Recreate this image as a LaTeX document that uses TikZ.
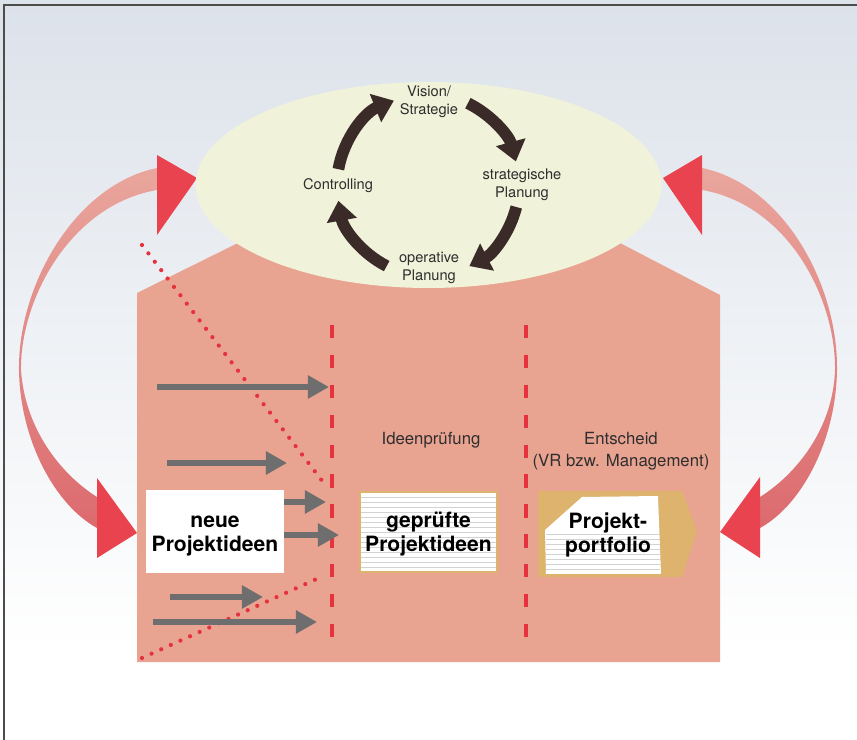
\documentclass[tikz,border=0pt]{standalone}
\usepackage{fontspec}
\setmainfont{TeX Gyre Heros}
\usetikzlibrary{arrows.meta,calc}
\definecolor{bgtop}{HTML}{DCE2EA}
\definecolor{house}{HTML}{E9A391}
\definecolor{ell}{HTML}{F0F2DA}
\definecolor{cyc}{HTML}{3B2B28}
\definecolor{redl}{HTML}{E5323E}
\definecolor{garr}{HTML}{6E6E6E}
\definecolor{tanc}{HTML}{DDB36E}
\definecolor{headred}{HTML}{E8434F}
\definecolor{txt}{HTML}{2E2E2E}
\definecolor{bandtop}{HTML}{E9A69D}
\definecolor{bandmid}{HTML}{F3D3CC}
\definecolor{bandbot}{HTML}{DC6A6E}
\tikzset{
  garrow/.style={draw=garr, line width=4.3pt, -{Triangle[length=18pt,width=19pt]}},
  cycarrow/.style={draw=cyc, line width=10pt, -{Triangle[length=17pt,width=25pt]}},
  reddash/.style={draw=redl, line width=3.4pt, dash pattern=on 11.5pt off 14pt},
  reddots/.style={draw=redl, line width=3.6pt, line cap=round, dash pattern=on 0pt off 9pt},
  smalltxt/.style={text=txt, align=center, font={\fontsize{12.5}{15.3}\selectfont}},
  midtxt/.style={text=txt, align=center, font={\fontsize{14.3}{18.7}\selectfont}},
  boldtxt/.style={text=black, align=center, font={\fontsize{18}{20}\selectfont\bfseries}},
  band/.style={top color=bandtop, middle color=bandmid, bottom color=bandbot},
  ruled/.style={draw=gray!35, line width=0.4pt}
}
\begin{document}
\begin{tikzpicture}[x=0.03cm,y=-0.03cm]
\useasboundingbox (0,0) rectangle (857,740);
% background
\fill[white] (0,0) rectangle (857,740);
\shade[top color=bgtop, bottom color=white] (0,0) rectangle (857,650);
\draw[line width=1.2pt, black!70] (4,740) -- (4,5) -- (857,5);

% left curved band
\shade[band] (157,168) .. controls (75,185) and (18,285) .. (19,370)
   .. controls (20,440) and (55,505) .. (97,528) -- (97,497)
   .. controls (62,475) and (25,430) .. (21,370)
   .. controls (20,300) and (70,205) .. (157,190) -- cycle;
% right curved band
\shade[band] (702,168) .. controls (784,185) and (838,285) .. (837,370)
   .. controls (836,440) and (802,505) .. (760,528) -- (760,497)
   .. controls (795,475) and (833,430) .. (835,370)
   .. controls (836,300) and (789,205) .. (702,190) -- cycle;
% arrow heads
\fill[headred] (157,155) -- (197,178) -- (157,235) -- cycle;
\fill[headred] (97,478) -- (137,533) -- (97,558) -- cycle;
\fill[headred] (702,155) -- (663,178) -- (702,235) -- cycle;
\fill[headred] (760,477) -- (720,532) -- (760,558) -- cycle;

% house
\fill[house] (137,662) -- (137,293) -- (240,242) -- (618,242) -- (720,295) -- (720,662) -- cycle;
% ellipse
\fill[ell] (428.5,185) ellipse [x radius=233, y radius=103];

% cycle arrows
\coordinate (cc) at (428,185);
\draw[cycarrow] (cc) ++(-64:91) arc[start angle=-64, end angle=-15, radius=91];
\draw[cycarrow] (cc) ++(14:91) arc[start angle=14, end angle=63, radius=91];
\draw[cycarrow] (cc) ++(117:91) arc[start angle=117, end angle=170, radius=91];
\draw[cycarrow] (cc) ++(-170:91) arc[start angle=-170, end angle=-112, radius=91];

\node[smalltxt] (vis) at (429,102) {\strut Vision/\\\strut Strategie};
\node[smalltxt] (strat) at (522,185) {\strut strategische\\\strut Planung};
\node[smalltxt] (contr) at (338,186) {\strut Controlling};
\node[smalltxt] (oper) at (429,268) {\strut operative\\\strut Planung};

% dotted lines
\coordinate (d1s) at (142,245); \coordinate (d1e) at (323,482);
\coordinate (d2s) at (142,658); \coordinate (d2e) at (321,577);
\draw[reddots] (d1s) -- (d1e);
\draw[reddots] (d2s) -- (d2e);

% dashed lines
\coordinate (l1t) at (332,325); \coordinate (l1b) at (332,648);
\coordinate (l2t) at (526,325); \coordinate (l2b) at (526,648);
\draw[reddash] (l1t) -- (l1b);
\draw[reddash] (l2t) -- (l2b);

\node[midtxt] (ideen) at (431,440.5) {\strut Ideenpr\"ufung};
\node[midtxt] (entsch) at (621,451.5) {\strut Entscheid\\\strut (VR bzw. Management)};

% boxes
\node[fill=white, minimum width=117.4pt, minimum height=70.6pt, inner sep=0pt] (neue) at (215,531.5) {};
\node[boldtxt] (neuet) at (215,535) {\strut neue\\\strut Projektideen};

\node[fill=white, minimum width=116.5pt, minimum height=68pt, inner sep=0pt] (gepr) at (428.5,532) {};
\foreach \yy in {497,502,...,568} {\draw[ruled] (361,\yy) -- (496,\yy);}
\draw[tanc, line width=1.2pt] (gepr.north west) rectangle (gepr.south east);
\node[boldtxt] (geprt) at (428.5,535) {\strut gepr\"ufte\\\strut Projektideen};

\fill[tanc] (538,491) -- (682,491) -- (697,531) -- (682,577) -- (538,577) -- cycle;
\fill[white] (545,530) -- (582,497) -- (658,496) -- (661,574) -- (546,574) -- cycle;
\foreach \yy in {534,539,...,572} {\draw[ruled] (546,\yy) -- (660,\yy);}
\node[boldtxt] (portt) at (608,536) {\strut Projekt-\\\strut portfolio};

% grey arrows
\coordinate (a1s) at (157,387); \coordinate (a1e) at (329,387);
\coordinate (a2s) at (167,463); \coordinate (a2e) at (287,463);
\coordinate (a3e) at (326,502);
\coordinate (a4e) at (339,535);
\coordinate (a5s) at (170,597); \coordinate (a5e) at (263,597);
\coordinate (a6s) at (153,622); \coordinate (a6e) at (317,622);
\draw[garrow] (a1s) -- (a1e);
\draw[garrow] (a2s) -- (a2e);
\draw[garrow] (neue.east |- a3e) -- (a3e);
\draw[garrow] (neue.east |- a4e) -- (a4e);
\draw[garrow] (a5s) -- (a5e);
\draw[garrow] (a6s) -- (a6e);
\end{tikzpicture}
\end{document}
